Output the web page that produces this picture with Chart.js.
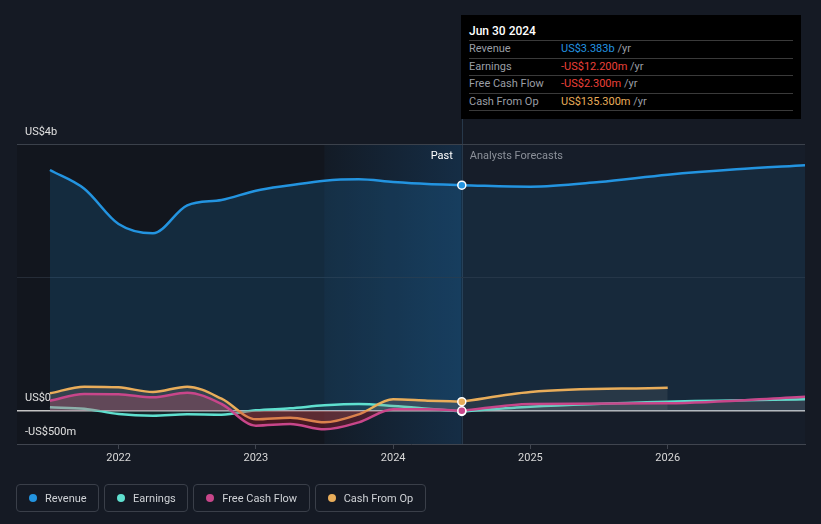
<!DOCTYPE html>
<html>
<head>
<meta charset="utf-8">
<script src="https://cdn.jsdelivr.net/npm/chart.js@4/dist/chart.umd.min.js"></script>
<style>
html,body{margin:0;padding:0;background:#151a24;}
#wrap{position:relative;width:821px;height:524px;overflow:hidden;font-family:Roboto,'Noto Sans',sans-serif;}
#c{position:absolute;left:0;top:0;}
#tip{position:absolute;left:461px;top:15px;width:340px;height:104px;background:#000;box-sizing:border-box;padding:0 8px;}
#tip .title{color:#fff;font-size:12px;font-weight:500;height:26px;line-height:16px;padding-top:8px;box-sizing:border-box;border-bottom:1px solid #3a3a3a;}
#tip .row{height:17.5px;line-height:16.5px;box-sizing:border-box;border-bottom:1px solid #3a3a3a;font-size:11px;color:#9a9ea5;white-space:nowrap;}
#tip .row span.l{display:inline-block;width:92px;}
#legend{position:absolute;left:16px;top:484px;display:flex;gap:5px;}
#legend .item{display:flex;align-items:center;height:28px;box-sizing:border-box;border:1px solid #3a3f49;border-radius:4px;padding:0 11.5px 0 12px;font-size:11px;color:#cfd2d6;}
#legend .dot{width:8px;height:8px;border-radius:50%;margin-right:8px;}
</style>
</head>
<body>
<div id="wrap">
<canvas id="c" width="821" height="524"></canvas>
<div id="tip"></div>
<div id="legend"></div>
</div>
<script>
// ---- data (values in US$ billions, x in decimal years) ----
const pastDates    = [2021.5, 2021.75, 2022.0, 2022.25, 2022.5, 2022.75, 2023.0, 2023.25, 2023.5, 2023.75, 2024.0, 2024.25, 2024.5];
const revenuePast  = [3.61, 3.33, 2.80, 2.66, 3.08, 3.16, 3.30, 3.38, 3.45, 3.47, 3.43, 3.40, 3.383];
const earningsPast = [0.05, 0.03, -0.05, -0.075, -0.055, -0.06, 0.005, 0.035, 0.08, 0.10, 0.07, 0.03, -0.0122];
const fcfPast      = [0.15, 0.25, 0.245, 0.20, 0.27, 0.10, -0.225, -0.20, -0.28, -0.175, 0.02, 0.02, -0.0023];
const cfoPast      = [0.26, 0.36, 0.35, 0.28, 0.36, 0.18, -0.13, -0.105, -0.175, -0.055, 0.17, 0.15, 0.1353];

const revenueFcDates = [2024.5, 2025.0, 2025.5, 2026.0, 2026.5, 2027.0];
const revenueFc      = [3.383, 3.36, 3.43, 3.54, 3.62, 3.68];
const earningsFcDates = [2024.5, 2025.0, 2026.0, 2027.0];
const earningsFc      = [-0.0122, 0.06, 0.135, 0.17];
const fcfFcDates = [2024.5, 2025.0, 2026.0, 2027.0];
const fcfFc      = [-0.0023, 0.10, 0.11, 0.21];
const cfoFcDates = [2024.5, 2025.0, 2026.0];
const cfoFc      = [0.1353, 0.28, 0.345];

const xTicks = [2022, 2023, 2024, 2025, 2026];
const yTickValues = [-0.5, 0, 2, 4];
const yTickLabels = ['-US$500m', 'US$0', '', 'US$4b'];

const seriesNames = ['Revenue', 'Earnings', 'Free Cash Flow', 'Cash From Op'];
const tooltipDate = 'Jun 30 2024';
const tooltipValues = ['US$3.383b', '-US$12.200m', '-US$2.300m', 'US$135.300m'];
const pastLabel = 'Past';
const forecastLabel = 'Analysts Forecasts';
const nowDate = 2024.5;
const highlightStart = 2023.5;

// ---- styles ----
const colors = ['#2394e0', '#5fe0cf', '#c8468a', '#e9ad5a'];
const tipColors = ['#2394e0', '#ec4139', '#ec4139', '#e9ad5a'];

function pts(xs, ys){ return xs.map((x,i)=>({x:x, y:ys[i]})); }

const pointR = (ctx) => (ctx.raw && ctx.raw.x === nowDate) ? 4 : 0;

function lineDs(data, color, fill, order, withPoint){
  return {
    data: data,
    borderColor: color,
    borderWidth: 2.5,
    backgroundColor: fill,
    fill: 'origin',
    cubicInterpolationMode: 'monotone',
    pointRadius: withPoint ? pointR : 0,
    pointHoverRadius: 0,
    pointBackgroundColor: color,
    pointBorderColor: '#ffffff',
    pointBorderWidth: 1.5,
    order: order
  };
}

const datasets = [
  lineDs(pts(revenueFcDates, revenueFc), colors[0], 'rgba(35,148,224,0.10)', 9, false),
  lineDs(pts(pastDates, revenuePast), colors[0], 'rgba(35,148,224,0.17)', 8, true),
  lineDs(pts(earningsFcDates, earningsFc), colors[1], 'rgba(150,150,160,0.12)', 7, false),
  lineDs(pts(cfoFcDates, cfoFc), colors[3], 'rgba(150,150,150,0.14)', 6, false),
  lineDs(pts(fcfFcDates, fcfFc), colors[2], 'rgba(150,150,160,0.10)', 5, false),
  lineDs(pts(pastDates, earningsPast), colors[1], 'rgba(95,224,207,0.08)', 4, true),
  lineDs(pts(pastDates, cfoPast), colors[3], 'rgba(170,150,130,0.22)', 3, true),
  lineDs(pts(pastDates, fcfPast), colors[2], 'rgba(215,90,120,0.28)', 2, true)
];
datasets[7].fill = {target:'origin', above:'rgba(215,90,120,0.28)', below:'rgba(190,30,45,0.30)'};

const bgPlugin = {
  id: 'bg',
  beforeDraw(chart){
    const {ctx, chartArea:{left,right,top,bottom}, scales:{x}} = chart;
    const xPast = x.getPixelForValue(highlightStart);
    const xNow = x.getPixelForValue(nowDate);
    ctx.save();
    ctx.fillStyle = '#151a24';
    ctx.fillRect(0, 0, chart.width, chart.height);
    ctx.fillStyle = '#12161e';
    ctx.fillRect(left, top, xPast-left, bottom-top);
    const g = ctx.createLinearGradient(xPast, 0, xNow, 0);
    g.addColorStop(0, '#131b26');
    g.addColorStop(1, '#152d45');
    ctx.fillStyle = g;
    ctx.fillRect(xPast, top, xNow-xPast, bottom-top);
    ctx.fillStyle = '#161d29';
    ctx.fillRect(xNow, top, right-xNow, bottom-top);
    ctx.strokeStyle = '#27384a';
    ctx.lineWidth = 1;
    ctx.beginPath();
    ctx.moveTo(Math.round(xNow)+0.5, 15);
    ctx.lineTo(Math.round(xNow)+0.5, bottom);
    ctx.stroke();
    ctx.restore();
  },
  afterDraw(chart){
    const {ctx, chartArea:{top}, scales:{x}} = chart;
    const xNow = x.getPixelForValue(nowDate);
    ctx.save();
    ctx.font = '11px Roboto, sans-serif';
    ctx.textBaseline = 'middle';
    ctx.textAlign = 'right';
    ctx.fillStyle = '#ffffff';
    ctx.fillText(pastLabel, xNow - 9, top + 12);
    ctx.textAlign = 'left';
    ctx.fillStyle = '#8b9099';
    ctx.fillText(forecastLabel, xNow + 8, top + 12);
    ctx.restore();
  }
};

Chart.defaults.font.family = 'Roboto, sans-serif';
Chart.defaults.font.size = 11;

new Chart(document.getElementById('c'), {
  type: 'line',
  data: { datasets: datasets },
  options: {
    responsive: false,
    animation: false,
    layout: { padding: { left: 17, right: 16, top: 144, bottom: 0 } },
    plugins: { legend: { display: false }, tooltip: { enabled: false } },
    scales: {
      x: {
        type: 'linear',
        min: 2021.26,
        max: 2027.0,
        afterBuildTicks: (s) => { s.ticks = xTicks.map(v => ({value: v})); },
        afterFit: (s) => { s.height = 80; },
        grid: { drawOnChartArea: false, drawTicks: true, tickLength: 5, color: '#40454f' },
        border: { color: '#40454f', width: 1 },
        ticks: { color: '#d8d8d8', padding: 3, maxRotation: 0, callback: (v) => String(v) }
      },
      y: {
        type: 'linear',
        min: -0.5,
        max: 4,
        afterBuildTicks: (s) => { s.ticks = yTickValues.map(v => ({value: v})); },
        afterFit: (s) => { s.width = 0; },
        grid: {
          drawTicks: false,
          color: (c) => {
            const v = c.tick && c.tick.value;
            if (v === 4) return '#3b414b';
            if (v === 2) return '#252c37';
            if (v === 0) return '#c4c4c4';
            return 'rgba(0,0,0,0)';
          },
          lineWidth: (c) => (c.tick && c.tick.value === 0) ? 1.5 : 1
        },
        border: { display: false },
        ticks: {
          mirror: true,
          padding: 8,
          labelOffset: -12,
          color: '#e0e0e0',
          callback: (v) => yTickLabels[yTickValues.indexOf(v)]
        }
      }
    }
  },
  plugins: [bgPlugin]
});

// tooltip box
const tip = document.getElementById('tip');
let html = '<div class="title">' + tooltipDate + '</div>';
seriesNames.forEach((n, i) => {
  html += '<div class="row"><span class="l">' + n + '</span><span style="color:' + tipColors[i] + '">' + tooltipValues[i] + '</span> /yr</div>';
});
tip.innerHTML = html;

// legend
const lg = document.getElementById('legend');
seriesNames.forEach((n, i) => {
  const d = document.createElement('div');
  d.className = 'item';
  d.innerHTML = '<span class="dot" style="background:' + colors[i] + '"></span>' + n;
  lg.appendChild(d);
});
</script>
</body>
</html>
